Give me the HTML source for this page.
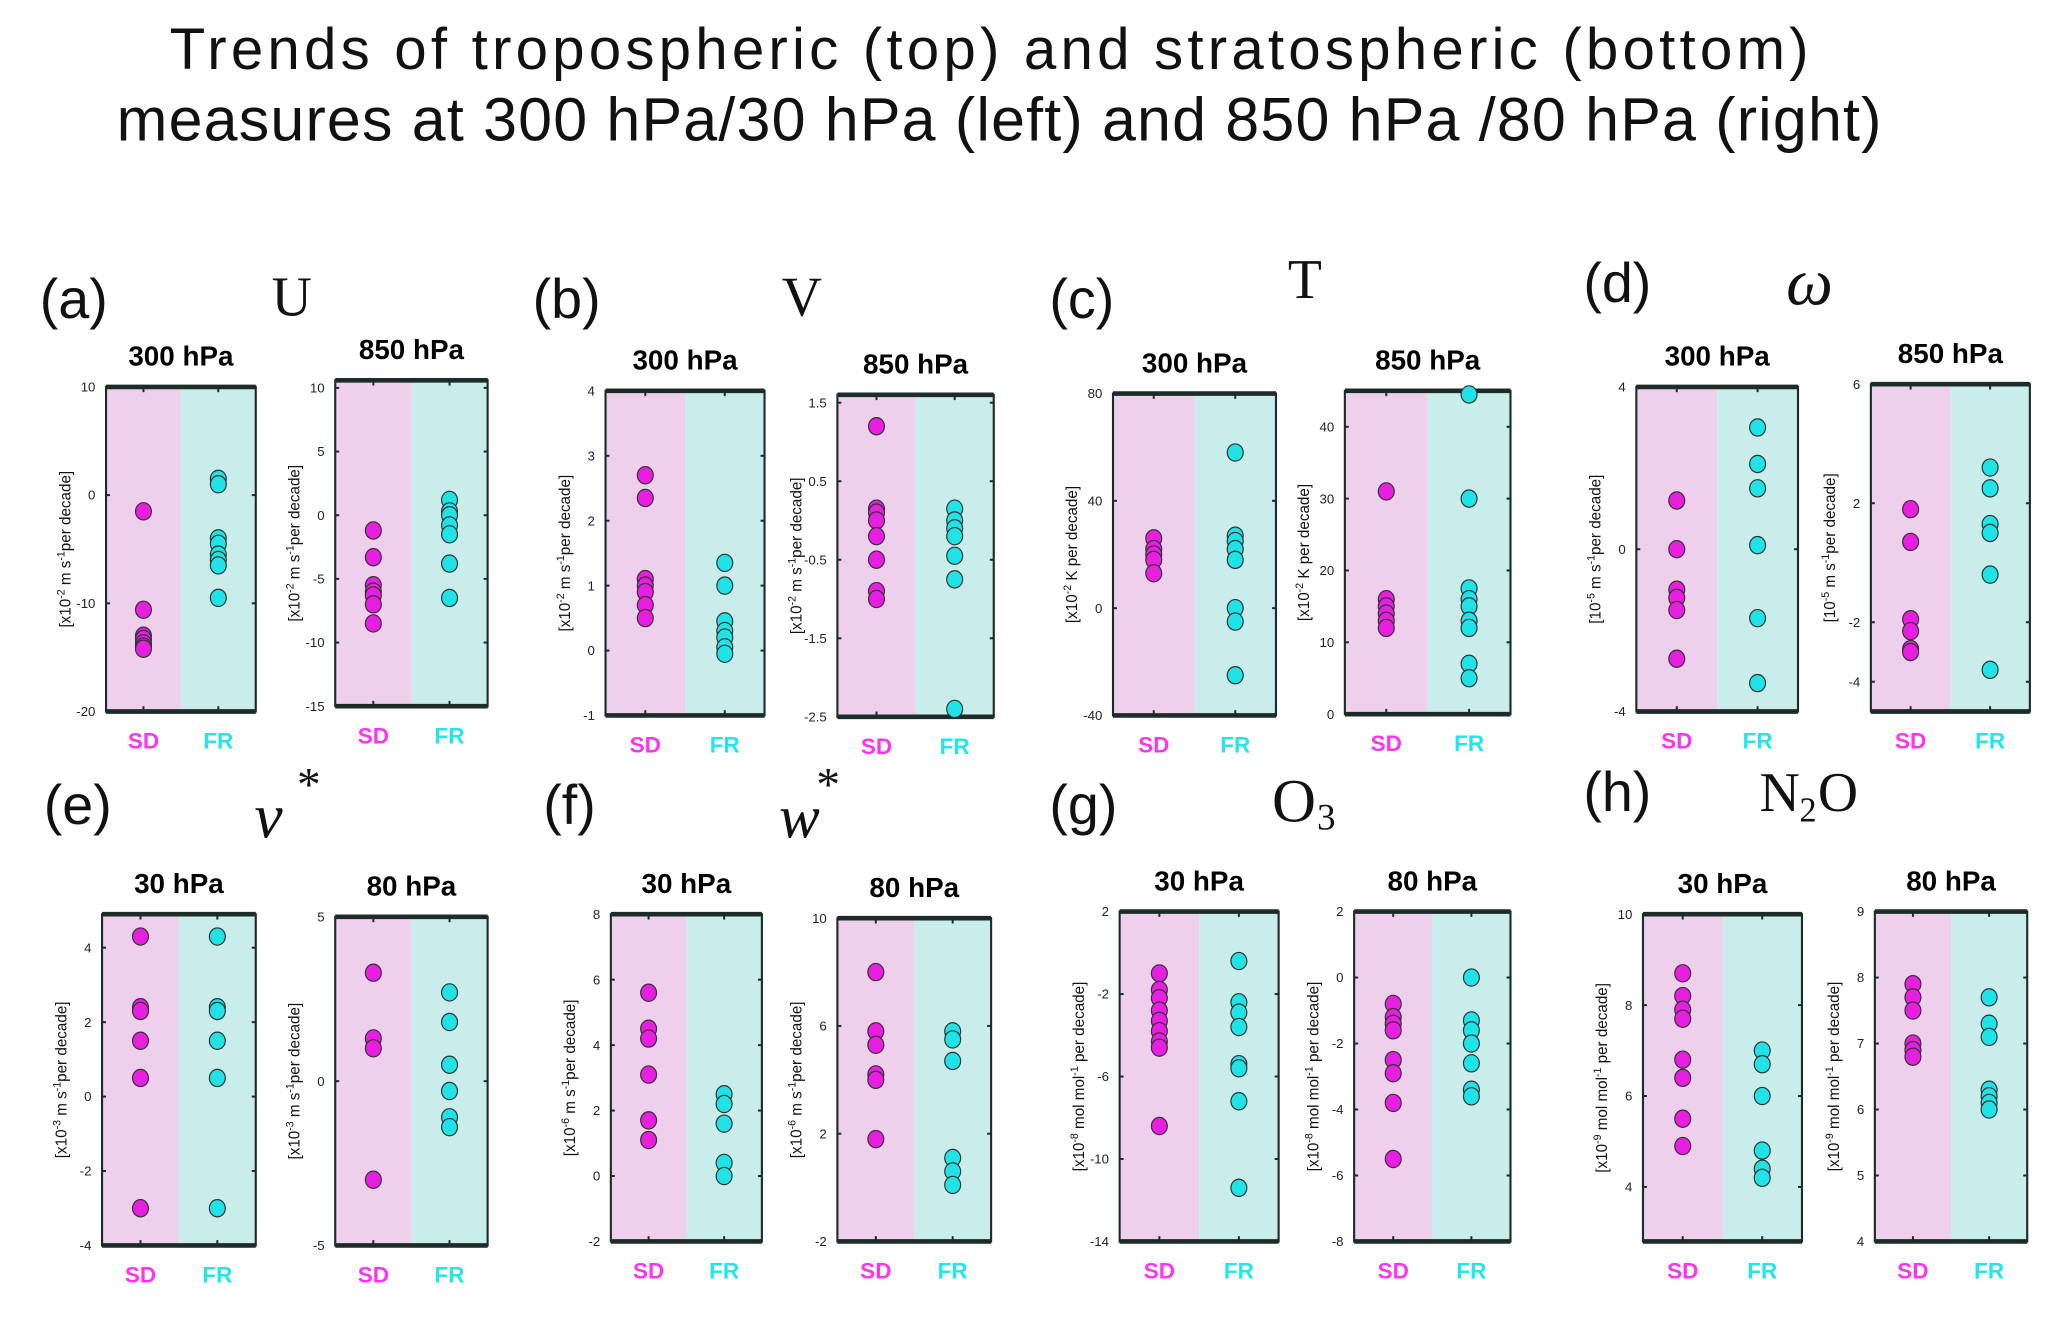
<!DOCTYPE html>
<html><head><meta charset="utf-8">
<style>
html,body{margin:0;padding:0;background:#fff;}
svg{display:block;}
text{font-family:"Liberation Sans",sans-serif;}
</style></head>
<body>
<svg id="fig" width="2067" height="1328" viewBox="0 0 1560 1002.3" xmlns="http://www.w3.org/2000/svg">
<text x="128" y="52" font-size="44" textLength="1237" lengthAdjust="spacing" fill="#111">Trends of  tropospheric (top) and  stratospheric (bottom)</text>
<text x="88" y="106" font-size="46" textLength="1332" lengthAdjust="spacing" fill="#111">measures at 300 hPa/30 hPa (left) and 850 hPa /80 hPa (right)</text>
<g id="panels"></g>
</svg>
<script>
// ---- data ----
const groups = ["SD", "FR"];
const uTopSD = [-1.5, -10.6, -13, -13.3, -13.7, -14, -14.2];
const uTopFR = [1.5, 1, -4, -4.5, -5.5, -6, -6.5, -9.5];
const uBotSD = [-1.2, -3.3, -5.5, -6, -6.3, -7, -8.5];
const uBotFR = [1.2, 0.3, 0, -0.8, -1.5, -3.8, -6.5];
const vTopSD = [2.7, 2.35, 1.1, 1, 0.9, 0.7, 0.5];
const vTopFR = [1.35, 1.0, 0.45, 0.3, 0.2, 0.05, -0.05];
const vBotSD = [1.2, 0.15, 0.1, 0.0, -0.2, -0.5, -0.9, -1.0];
const vBotFR = [0.15, 0, -0.1, -0.2, -0.45, -0.75, -2.4];
const tTopSD = [26, 22, 20, 18, 13];
const tTopFR = [58, 27, 25, 22, 18, 0, -5, -25];
const tBotSD = [31, 16, 15, 14, 13, 12];
const tBotFR = [44.5, 30, 17.5, 16, 15, 13, 12, 7, 5];
const wTopSD = [1.2, 0, -1, -1.2, -1.5, -2.7];
const wTopFR = [3, 2.1, 1.5, 0.1, -1.7, -3.3];
const wBotSD = [1.8, 0.7, -1.9, -2.3, -2.9, -3];
const wBotFR = [3.2, 2.5, 1.3, 1.0, -0.4, -3.6];
const vsTopSD = [4.3, 2.4, 2.3, 1.5, 0.5, -3];
const vsTopFR = [4.3, 2.4, 2.3, 1.5, 0.5, -3];
const vsBotSD = [3.3, 1.3, 1.0, -3.0];
const vsBotFR = [2.7, 1.8, 0.5, -0.3, -1.1, -1.4];
const wsTopSD = [5.6, 4.5, 4.2, 3.1, 1.7, 1.1];
const wsTopFR = [2.5, 2.2, 1.6, 0.4, 0.0];
const wsBotSD = [8, 5.8, 5.3, 4.2, 4, 1.8];
const wsBotFR = [5.8, 5.5, 4.7, 1.1, 0.6, 0.1];
const o3TopSD = [-1, -1.8, -2.2, -2.8, -3.3, -3.8, -4.3, -4.6, -8.4];
const o3TopFR = [-0.4, -2.4, -2.9, -3.6, -5.4, -5.6, -7.2, -11.4];
const o3BotSD = [-0.8, -1.2, -1.4, -1.6, -2.5, -2.9, -3.8, -5.5];
const o3BotFR = [0, -1.3, -1.6, -2.0, -2.6, -3.4, -3.6];
const n2oTopSD = [8.7, 8.2, 7.9, 7.7, 6.8, 6.4, 5.5, 4.9];
const n2oTopFR = [7, 6.7, 6, 4.8, 4.4, 4.2];
const n2oBotSD = [7.9, 7.7, 7.5, 7.0, 6.9, 6.8];
const n2oBotFR = [7.7, 7.3, 7.1, 6.3, 6.2, 6.1, 6.0];
// axis ranges & tick labels
const uTopTicks = [10, 0, -10, -20];
const uBotTicks = [10, 5, 0, -5, -10, -15];
const vTopTicks = [4, 3, 2, 1, 0, -1];
const vBotTicks = [1.5, 0.5, -0.5, -1.5, -2.5];
const tTopTicks = [80, 40, 0, -40];
const tBotTicks = [40, 30, 20, 10, 0];
const wTopTicks = [4, 0, -4];
const wBotTicks = [6, 2, -2, -4];
const vsTopTicks = [4, 2, 0, -2, -4];
const vsBotTicks = [5, 0, -5];
const wsTopTicks = [8, 6, 4, 2, 0, -2];
const wsBotTicks = [10, 6, 2, -2];
const o3TopTicks = [2, -2, -6, -10, -14];
const o3BotTicks = [2, 0, -2, -4, -6, -8];
const n2oTopTicks = [10, 8, 6, 4];
const n2oBotTicks = [9, 8, 7, 6, 5, 4];

const NS = "http://www.w3.org/2000/svg";
const root = document.getElementById('panels');
function mk(tag, attrs, parent) {
  const e = document.createElementNS(NS, tag);
  for (const k in attrs) e.setAttribute(k, attrs[k]);
  (parent || root).appendChild(e);
  return e;
}
function ytitle(parent, x, y, pre, exp, mid, exp2, post) {
  const t = mk('text', {x: 0, y: 0, 'font-size': 11.5, 'text-anchor': 'middle', fill: '#111', transform: `translate(${x},${y}) rotate(-90)`}, parent);
  
  
  const parts = [[pre, 0], [exp, 1], [mid, 0], [exp2, 1], [post, 0]];
  parts.forEach(p => {
    if (!p[0]) return;
    const s = mk('tspan', {}, t);
    if (p[1]) { s.setAttribute('baseline-shift', 'super'); s.setAttribute('font-size', '8'); }
    s.textContent = p[0];
  });
}
function panel(cfg) {
  const g = mk('g', {});
  
  
  const {x0, x1, y0, y1, min, max} = cfg;
  const xm = (x0 + x1) / 2;
  const ys = v => y1 - (v - min) / (max - min) * (y1 - y0);
  const xs = i => x0 + (i + 0.5) * (x1 - x0) / 2;
  const bg1 = mk('rect', {x: x0, y: y0, width: xm - x0, height: y1 - y0, fill: '#eed0ec'}, g);
  
  
  const bg2 = mk('rect', {x: xm, y: y0, width: x1 - xm, height: y1 - y0, fill: '#c9edeb'}, g);
  
  
  const fr = mk('rect', {x: x0, y: y0, width: x1 - x0, height: y1 - y0, fill: 'none', stroke: '#1d2b29', 'stroke-width': 1.6}, g);
  
  
  mk('line', {x1: x0, y1: y0, x2: x1, y2: y0, stroke: '#1d2b29', 'stroke-width': 3.5}, g);
  mk('line', {x1: x0, y1: y1, x2: x1, y2: y1, stroke: '#1d2b29', 'stroke-width': 3.5}, g);
  cfg.ticks.forEach(t => {
    const y = ys(t);
    mk('line', {x1: x0, y1: y, x2: x0 + 3, y2: y, stroke: '#1d2b29', 'stroke-width': 1.5}, g);
    mk('line', {x1: x1, y1: y, x2: x1 - 3, y2: y, stroke: '#1d2b29', 'stroke-width': 1.5}, g);
    const tl = mk('text', {x: x0 - 8, y: y + 3.5, 'font-size': 10, 'text-anchor': 'end', fill: '#222'}, g);
    
    
    tl.textContent = t;
  });
  groups.forEach((gr, i) => {
    mk('line', {x1: xs(i), y1: y0, x2: xs(i), y2: y0 + 4, stroke: '#1d2b29', 'stroke-width': 1.5}, g);
    mk('line', {x1: xs(i), y1: y1, x2: xs(i), y2: y1 - 4, stroke: '#1d2b29', 'stroke-width': 1.5}, g);
    const l = mk('text', {x: xs(i), y: y1 + 28, 'font-size': 17, 'font-weight': 'bold', 'text-anchor': 'middle', fill: i ? '#22e6e8' : '#ff33f0'}, g);
    
    
    l.textContent = gr;
  });
  const tt = mk('text', {x: xm, y: y0 - 16, 'font-size': 21, 'font-weight': 'bold', 'text-anchor': 'middle', fill: '#000'}, g);
  
  
  tt.textContent = cfg.title;
  ytitle(g, x0 - 27, (y0 + y1) / 2, cfg.yt[0], cfg.yt[1], cfg.yt[2], cfg.yt[3], cfg.yt[4]);
  [cfg.sd, cfg.fr].forEach((arr, i) => {
    arr.forEach(v => {
      const c = mk('ellipse', {cx: xs(i), cy: ys(v), rx: 6, ry: 6.5, fill: i ? '#1fe3e6' : '#e81ee0', stroke: '#333', 'stroke-width': 0.9}, g);
      
      
    });
  });
}
const mps2 = ['[x10', '-2', ' m  s', '-1', 'per decade]'];
const K2 = ['[x10', '-2', ' K per decade]', '', ''];
const om = ['[10', '-5', ' m  s', '-1', 'per decade]'];
const m3 = ['[x10', '-3', ' m  s', '-1', 'per decade]'];
const m6 = ['[x10', '-6', ' m  s', '-1', 'per decade]'];
const mol8 = ['[x10', '-8', ' mol  mol', '-1', ' per decade]'];
const mol9 = ['[x10', '-9', ' mol  mol', '-1', ' per decade]'];
const panels = [
  {name:'panel-a-300', title:'300 hPa', x0:80, x1:193, y0:292, y1:537, min:-20, max:10, ticks:uTopTicks, sd:uTopSD, fr:uTopFR, yt:mps2},
  {name:'panel-a-850', title:'850 hPa', x0:253, x1:368, y0:287, y1:533, min:-15, max:10.6, ticks:uBotTicks, sd:uBotSD, fr:uBotFR, yt:mps2},
  {name:'panel-b-300', title:'300 hPa', x0:457, x1:577, y0:295, y1:540, min:-1, max:4, ticks:vTopTicks, sd:vTopSD, fr:vTopFR, yt:mps2},
  {name:'panel-b-850', title:'850 hPa', x0:632, x1:750, y0:298, y1:541, min:-2.5, max:1.6, ticks:vBotTicks, sd:vBotSD, fr:vBotFR, yt:mps2},
  {name:'panel-c-300', title:'300 hPa', x0:840, x1:963, y0:297, y1:540, min:-40, max:80, ticks:tTopTicks, sd:tTopSD, fr:tTopFR, yt:K2},
  {name:'panel-c-850', title:'850 hPa', x0:1015, x1:1140, y0:295, y1:539, min:0, max:45, ticks:tBotTicks, sd:tBotSD, fr:tBotFR, yt:K2},
  {name:'panel-d-300', title:'300 hPa', x0:1235, x1:1357, y0:292, y1:537, min:-4, max:4, ticks:wTopTicks, sd:wTopSD, fr:wTopFR, yt:om},
  {name:'panel-d-850', title:'850 hPa', x0:1412, x1:1532, y0:290, y1:537, min:-5, max:6, ticks:wBotTicks, sd:wBotSD, fr:wBotFR, yt:om},
  {name:'panel-e-30', title:'30 hPa', x0:77, x1:193, y0:690, y1:940, min:-4, max:4.9, ticks:vsTopTicks, sd:vsTopSD, fr:vsTopFR, yt:m3},
  {name:'panel-e-80', title:'80 hPa', x0:253, x1:368, y0:692, y1:940, min:-5, max:5, ticks:vsBotTicks, sd:vsBotSD, fr:vsBotFR, yt:m3},
  {name:'panel-f-30', title:'30 hPa', x0:461, x1:575, y0:690, y1:937, min:-2, max:8, ticks:wsTopTicks, sd:wsTopSD, fr:wsTopFR, yt:m6},
  {name:'panel-f-80', title:'80 hPa', x0:632, x1:748, y0:693, y1:937, min:-2, max:10, ticks:wsBotTicks, sd:wsBotSD, fr:wsBotFR, yt:m6},
  {name:'panel-g-30', title:'30 hPa', x0:845, x1:965, y0:688, y1:937, min:-14, max:2, ticks:o3TopTicks, sd:o3TopSD, fr:o3TopFR, yt:mol8},
  {name:'panel-g-80', title:'80 hPa', x0:1022, x1:1140, y0:688, y1:937, min:-8, max:2, ticks:o3BotTicks, sd:o3BotSD, fr:o3BotFR, yt:mol8},
  {name:'panel-h-30', title:'30 hPa', x0:1240, x1:1360, y0:690, y1:937, min:2.8, max:10, ticks:n2oTopTicks, sd:n2oTopSD, fr:n2oTopFR, yt:mol9},
  {name:'panel-h-80', title:'80 hPa', x0:1415, x1:1530, y0:688, y1:937, min:4, max:9, ticks:n2oBotTicks, sd:n2oBotSD, fr:n2oBotFR, yt:mol9}
];
panels.forEach(panel);
const letters = [['(a)',30,240],['(b)',402,240],['(c)',792,240],['(d)',1195,228],['(e)',33,622],['(f)',410,622],['(g)',792,622],['(h)',1195,612]];
letters.forEach(l => {
  const t = mk('text', {x: l[1], y: l[2], 'font-size': 42, fill: '#111'});
  
  
  t.textContent = l[0];
});
const syms = [['U',205,238,42,'normal'],['V',590,238,42,'normal'],['T',972,225,42,'normal'],['ω',1348,230,50,'italic'],['v',192,632,48,'italic'],['w',588,632,46,'italic'],['O',960,620,46,'normal'],['N',1328,612,42,'normal']];
syms.forEach(s => {
  const t = mk('text', {x: s[1], y: s[2], 'font-size': s[3], 'font-style': s[4], fill: '#111', style: 'font-family:"Liberation Serif",serif'});
  
  
  t.textContent = s[0];
});
[[224,604],[616,604]].forEach(p => {
  const t = mk('text', {x: p[0], y: p[1], 'font-size': 36, fill: '#111', style: 'font-family:"Liberation Serif",serif'});
  
  
  t.textContent = '*';
});
const o3sub = mk('text', {x: 994, y: 626, 'font-size': 28, fill: '#111', style: 'font-family:"Liberation Serif",serif'});


o3sub.textContent = '3';
const n2 = mk('text', {x: 1358, y: 620, 'font-size': 26, fill: '#111', style: 'font-family:"Liberation Serif",serif'});


n2.textContent = '2';
const n2o = mk('text', {x: 1372, y: 612, 'font-size': 42, fill: '#111', style: 'font-family:"Liberation Serif",serif'});


n2o.textContent = 'O';
</script>
</body></html>
